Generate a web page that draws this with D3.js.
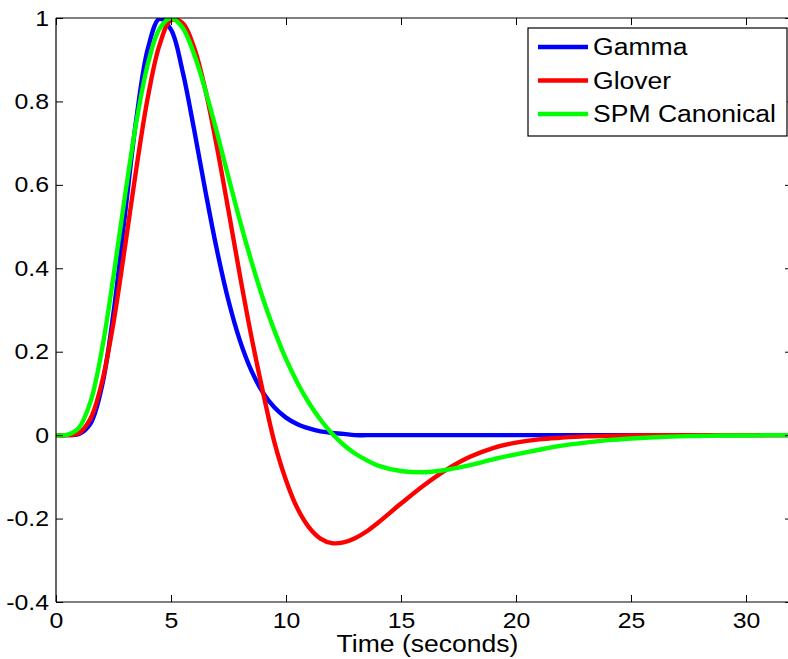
<!DOCTYPE html>
<html>
<head>
<meta charset="utf-8">
<script src="https://cdn.jsdelivr.net/npm/d3@7"></script>
<style>
  html, body { margin: 0; padding: 0; background: #fff; }
  svg { display: block; }
  text { font-family: "Liberation Sans", Arial, Helvetica, sans-serif; fill: #000; }
</style>
</head>
<body>
<svg id="chart" width="788" height="659"></svg>
<script>
// ---- data ----
const times = [0,0.5,1,1.5,2,2.5,3,3.5,4,4.5,5,5.5,6,6.5,7,7.5,8,8.5,9,9.5,10,10.5,11,11.5,12,12.5,13,13.5,14,15,16,17,18,19,20,21,22,23,24,25,26,27,28,29,30,31,32];
const gammaValues = [0,0,0.003,0.028,0.118,0.293,0.529,0.761,0.928,0.998,0.972,0.873,0.734,0.584,0.443,0.322,0.226,0.154,0.102,0.066,0.042,0.026,0.016,0.009,0.0055,0.003,0,0,0,0,0,0,0,0,0,0,0,0,0,0,0,0,0,0,0,0,0];
const gloverValues = [0,0,0.005,0.04,0.127,0.27,0.452,0.642,0.812,0.935,0.995,0.988,0.93,0.826,0.69,0.538,0.382,0.235,0.103,-0.018,-0.108,-0.176,-0.221,-0.248,-0.259,-0.257,-0.247,-0.231,-0.21,-0.164,-0.12,-0.082,-0.052,-0.031,-0.018,-0.01,-0.006,-0.003,-0.002,-0.001,0,0,0,0,0,0,0];
const spmValues = [0,0.001,0.018,0.08,0.206,0.381,0.574,0.753,0.891,0.974,1.0,0.977,0.914,0.826,0.725,0.618,0.513,0.416,0.327,0.25,0.182,0.125,0.077,0.037,0.004,-0.023,-0.044,-0.06,-0.073,-0.086,-0.089,-0.083,-0.072,-0.058,-0.046,-0.035,-0.025,-0.018,-0.012,-0.008,-0.005,-0.003,-0.002,-0.001,-0.001,0,0];
const seriesNames = ["Gamma", "Glover", "SPM Canonical"];
const seriesColors = ["#0000ff", "#ff0000", "#00ff00"];
const xTicks = [0,5,10,15,20,25,30];
const yTicks = [-0.4,-0.2,0,0.2,0.4,0.6,0.8,1];
const yTickLabels = ["-0.4","-0.2","0","0.2","0.4","0.6","0.8","1"];
const xDomain = [0, 32];
const yDomain = [-0.4, 1];
const xLabel = "Time (seconds)";

// ---- layout ----
const pLeft = 56, pRight = 792, pTop = 18, pBottom = 602;
const sx = 1.13; // horizontal text stretch seen in the reference
const svg = d3.select("#chart");

const x = d3.scaleLinear().domain(xDomain).range([pLeft, pRight]);
const y = d3.scaleLinear().domain(yDomain).range([pBottom, pTop]);

svg.append("defs").append("clipPath").attr("id", "plotclip")
  .append("rect").attr("x", pLeft).attr("y", pTop).attr("width", pRight - pLeft).attr("height", pBottom - pTop);

// curves
const allSeries = [gammaValues, gloverValues, spmValues];
const line = d3.line().x((d, i) => x(times[i])).y(d => y(d)).curve(d3.curveCatmullRom.alpha(0.5));
const g = svg.append("g").attr("clip-path", "url(#plotclip)");
allSeries.forEach((vals, k) => {
  g.append("path").datum(vals)
    .attr("d", line)
    .attr("fill", "none")
    .attr("stroke", seriesColors[k])
    .attr("stroke-width", 4.4)
    .attr("stroke-linejoin", "round")
    .attr("stroke-linecap", "round");
});

// axes (MATLAB box style, ticks inside)
const yFmt = d => yTickLabels[yTicks.indexOf(d)];
const axB = svg.append("g").attr("transform", `translate(0,${pBottom})`)
  .call(d3.axisBottom(x).tickValues(xTicks).tickSize(-7).tickPadding(10).tickFormat(d3.format("d")));
const axT = svg.append("g").attr("transform", `translate(0,${pTop})`)
  .call(d3.axisTop(x).tickValues(xTicks).tickSize(-7).tickFormat(""));
const axL = svg.append("g").attr("transform", `translate(${pLeft},0)`)
  .call(d3.axisLeft(y).tickValues(yTicks).tickSize(-7).tickPadding(7).tickFormat(yFmt));
const axR = svg.append("g").attr("transform", `translate(${pRight},0)`)
  .call(d3.axisRight(y).tickValues(yTicks).tickSize(-7).tickFormat(""));

[axB, axT, axL, axR].forEach(a => {
  a.select(".domain").attr("stroke", "#000").attr("stroke-width", 1.2);
  a.selectAll(".tick line").attr("stroke", "#000").attr("stroke-width", 1);
  a.selectAll("text").attr("font-size", 22).attr("font-family", '"Liberation Sans", Arial, sans-serif').attr("fill", "#000");
});
axB.select(".domain").attr("d", `M${pLeft},0H${pRight}`);
axT.select(".domain").attr("d", `M${pLeft},0H${pRight}`);
axL.select(".domain").attr("d", `M0,${pTop}V${pBottom}`);
axR.select(".domain").attr("d", `M0,${pTop}V${pBottom}`);

axB.selectAll(".tick text").each(function() {
  const t = d3.select(this);
  const yy = +t.attr("y");
  t.attr("y", 0).attr("transform", `translate(0,${yy}) scale(${sx},1)`);
});
axL.selectAll(".tick text").each(function() {
  const t = d3.select(this);
  const xx = +t.attr("x");
  t.attr("x", 0).attr("transform", `translate(${xx},0) scale(${sx},1)`);
});

// x label
svg.append("text")
  .attr("transform", `translate(${(335 + 520) / 2},652) scale(${sx},1)`)
  .attr("text-anchor", "middle")
  .attr("font-size", 23.5)
  .text(xLabel);

// legend
const lg = svg.append("g");
lg.append("rect").attr("x", 528).attr("y", 28).attr("width", 259).attr("height", 108)
  .attr("fill", "#fff").attr("stroke", "#000").attr("stroke-width", 1.2);
const rowY = [47, 80.5, 114];
seriesNames.forEach((name, k) => {
  lg.append("line").attr("x1", 538).attr("x2", 588).attr("y1", rowY[k]).attr("y2", rowY[k])
    .attr("stroke", seriesColors[k]).attr("stroke-width", 4.4);
  lg.append("text")
    .attr("transform", `translate(593,${rowY[k]}) scale(${sx},1)`)
    .attr("dy", "0.36em")
    .attr("font-size", 23.5)
    .text(name);
});
</script>
</body>
</html>
